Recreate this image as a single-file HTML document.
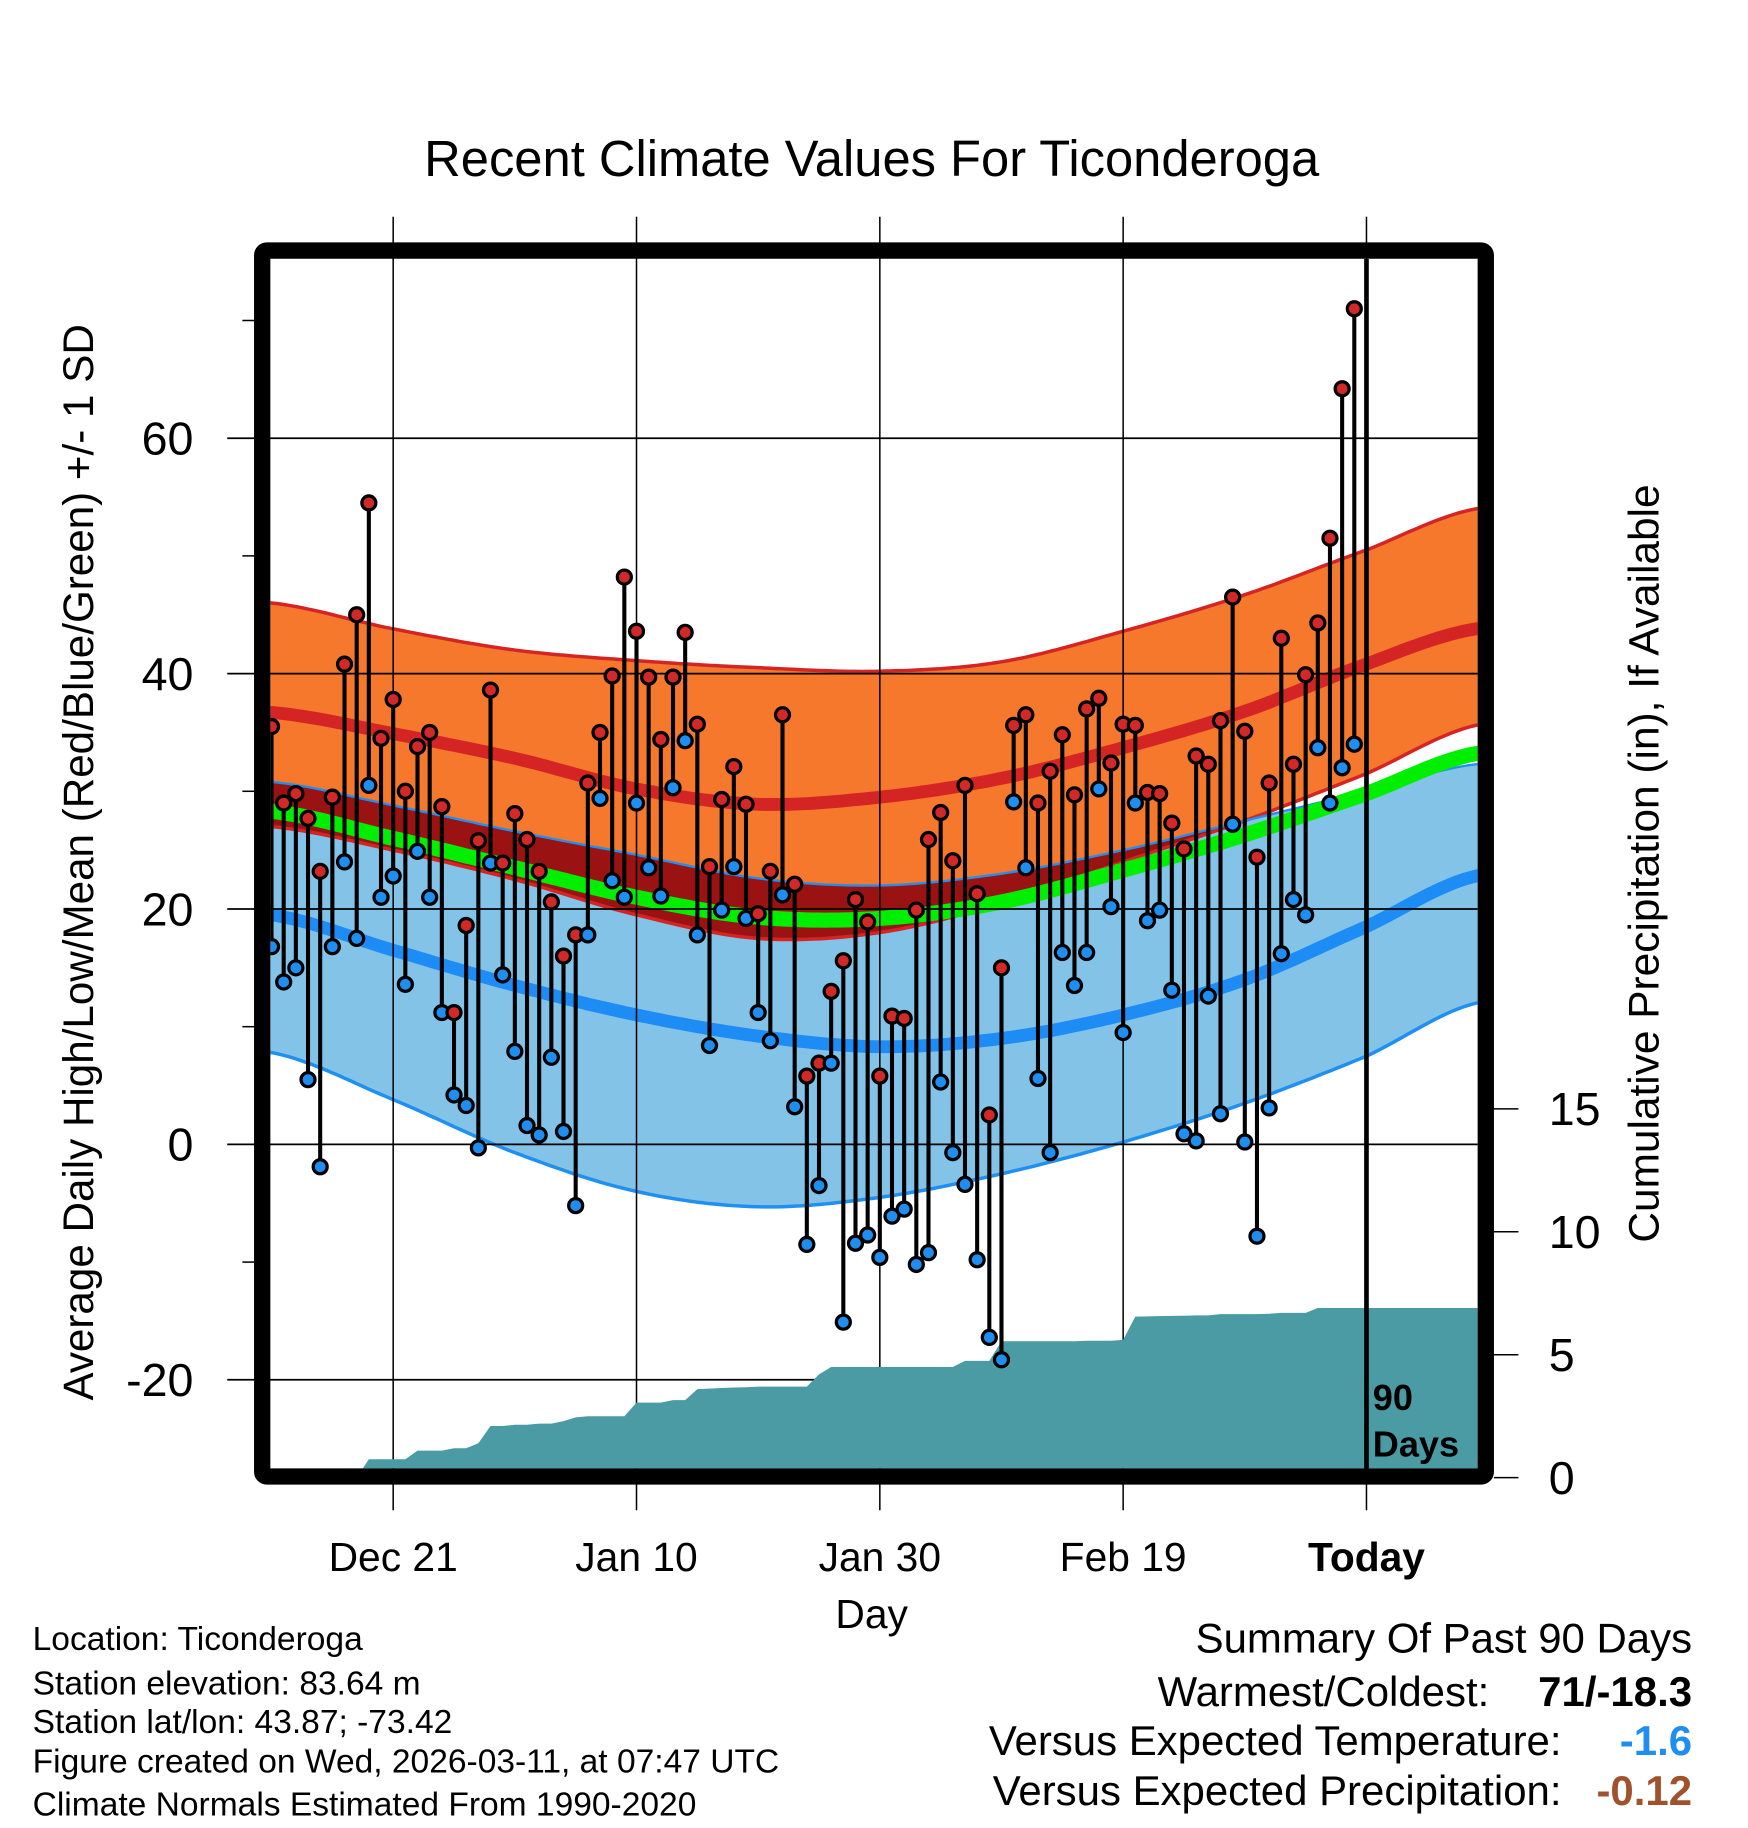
<!DOCTYPE html>
<html><head><meta charset="utf-8"><style>html,body{margin:0;padding:0;background:#fff}svg{display:block}text{font-family:"Liberation Sans",Arial,sans-serif}</style></head>
<body>
<svg id="chart" width="1748" height="1828" viewBox="0 0 1500 1568.6" xmlns="http://www.w3.org/2000/svg">
<defs><clipPath id="plotclip"><rect x="232" y="222" width="1036" height="1038"/></clipPath></defs>
<text x="748" y="151" font-size="43.5" text-anchor="middle">Recent Climate Values For Ticonderoga</text>
<g id="bands" clip-path="url(#plotclip)"></g>
<g id="grid"></g>
<g id="precip" clip-path="url(#plotclip)"></g>
<g id="pins" clip-path="url(#plotclip)"></g>
<g id="frame"></g>
<g id="axes"></g>
<text transform="translate(80,740) rotate(-90)" font-size="36.2" text-anchor="middle">Average Daily High/Low/Mean (Red/Blue/Green) +/- 1 SD</text>
<text transform="translate(1423,741) rotate(-90)" font-size="36.4" text-anchor="middle">Cumulative Precipitation (in), If Available</text>
<text x="748" y="1397" font-size="35" text-anchor="middle">Day</text>
<text x="1178" y="1210" font-size="31" font-weight="bold">90</text>
<text x="1178" y="1250" font-size="31" font-weight="bold">Days</text>
<g font-size="28.8">
<text x="28" y="1416">Location: Ticonderoga</text>
<text x="28" y="1454">Station elevation: 83.64 m</text>
<text x="28" y="1487">Station lat/lon: 43.87; -73.42</text>
<text x="28" y="1521">Figure created on Wed, 2026-03-11, at 07:47 UTC</text>
<text x="28" y="1558">Climate Normals Estimated From 1990-2020</text>
</g>
<g font-size="36" text-anchor="end">
<text x="1452" y="1418">Summary Of Past 90 Days</text>
<text x="1278" y="1464">Warmest/Coldest:</text>
<text x="1452" y="1464" font-weight="bold">71/-18.3</text>
<text x="1340" y="1506">Versus Expected Temperature:</text>
<text x="1452" y="1506" font-weight="bold" fill="#1e8ff0">-1.6</text>
<text x="1340" y="1549">Versus Expected Precipitation:</text>
<text x="1452" y="1549" font-weight="bold" fill="#a0522d">-0.12</text>
</g>
</svg>
<script>
const normDays=[0,10,20,30,40,50,60,70,80,90,99];
const highHi=[46,43.8,42,41.1,40.5,40.2,41,43.6,46.7,50.5,54];
const highMean=[36.7,34.9,32.8,30.2,28.9,29.5,31.1,33.7,36.8,40.8,43.8];
const highLo=[27,25,22.5,19.5,17.5,18,20.5,24,27.5,31.5,35.6];
const lowHi=[30.8,28.8,26.6,24.6,22.6,22,23,25,27.5,30,32.3];
const meanT=[28.3,26,23.5,21,19.3,19.2,20.6,23.3,26.3,29.8,33.2];
const lowMean=[19.5,16.5,13.5,11,9.2,8.3,9,11,14,18.5,22.8];
const lowLo=[7.8,3.8,-0.7,-4,-5.3,-4.5,-2.5,0.2,3.5,7.5,12];
const highs=[35.5,29,29.8,27.7,23.2,29.5,40.8,45,54.5,34.5,37.8,30,33.8,35,28.7,11.2,18.6,25.8,38.6,23.9,28.1,25.9,23.2,20.6,16,17.8,30.7,35,39.8,48.2,43.6,39.7,34.4,39.7,43.5,35.7,23.6,29.3,32.1,28.9,19.6,23.2,36.5,22.1,5.8,6.9,13,15.6,20.8,18.9,5.8,10.9,10.7,19.9,25.9,28.2,24.1,30.5,21.3,2.5,15,35.6,36.5,29,31.7,34.8,29.7,37,37.9,32.4,35.7,35.6,29.9,29.8,27.3,25.1,33,32.3,36,46.5,35.1,24.4,30.7,43,32.3,39.9,44.3,51.5,64.2,71];
const lows=[16.8,13.8,15,5.5,-1.9,16.8,24,17.5,30.5,21,22.8,13.6,24.9,21,11.2,4.2,3.3,-0.3,23.9,14.4,7.9,1.6,0.8,7.4,1.1,-5.2,17.8,29.4,22.4,21,29,23.5,21.1,30.3,34.3,17.8,8.4,19.9,23.6,19.2,11.2,8.8,21.2,3.2,-8.5,-3.5,6.9,-15.1,-8.4,-7.7,-9.6,-6.1,-5.5,-10.2,-9.2,5.3,-0.7,-3.4,-9.8,-16.4,-18.3,29.1,23.5,5.6,-0.7,16.3,13.5,16.3,30.2,20.2,9.5,29,19,19.9,13.1,0.9,0.3,12.6,2.6,27.2,0.2,-7.8,3.1,16.2,20.8,19.5,33.7,29,32,34];
const precip=[0,0,0,0,0,0,0,0,0.75,0.75,0.75,0.75,1.1,1.1,1.1,1.2,1.2,1.4,2.1,2.1,2.15,2.15,2.2,2.2,2.3,2.45,2.5,2.5,2.5,2.5,3.05,3.05,3.05,3.15,3.15,3.6,3.62,3.65,3.67,3.68,3.7,3.7,3.7,3.7,3.7,4.2,4.5,4.5,4.5,4.5,4.5,4.5,4.5,4.5,4.5,4.5,4.5,4.75,4.75,4.75,5.55,5.55,5.55,5.55,5.55,5.55,5.55,5.57,5.57,5.57,5.6,6.55,6.56,6.57,6.58,6.59,6.6,6.6,6.65,6.65,6.65,6.65,6.67,6.7,6.7,6.7,6.9,6.9,6.9,6.9];
const tempTicks=[60,40,20,0,-20];
const minorTicks=[70,50,30,10,-10];
const precipTicks=[0,5,10,15];
const dateTicks=[10,30,50,70,90];
const dateLabels=["Dec 21","Jan 10","Jan 30","Feb 19","Today"];
const NS="http://www.w3.org/2000/svg";
const X=d=>233+10.44*d, Y=v=>982-10.1*v, YP=p=>1268-21.1*p;
function mk(tag,attrs,parent){const e=document.createElementNS(NS,tag);for(const k in attrs)e.setAttribute(k,attrs[k]);parent.appendChild(e);return e;}
function interp(arr,d){let i=0;while(i<normDays.length-2&&d>normDays[i+1])i++;
 const p0=arr[Math.max(i-1,0)],p1=arr[i],p2=arr[i+1],p3=arr[Math.min(i+2,arr.length-1)];
 const t=(d-normDays[i])/(normDays[i+1]-normDays[i]);
 return 0.5*((2*p1)+(-p0+p2)*t+(2*p0-5*p1+4*p2-p3)*t*t+(-p0+3*p1-3*p2+p3)*t*t*t);}
const samp=[];for(let d=-1;d<=100;d+=0.5)samp.push(d);
const curve=arr=>samp.map(d=>[X(d),Y(interp(arr,d))]);
const pts=a=>a.map(p=>p[0].toFixed(1)+","+p[1].toFixed(1)).join(" ");
const bands=document.getElementById('bands');
let e;
e=mk('polygon',{points:pts(curve(highHi).concat(curve(highLo).reverse())),fill:'#f5782c'},bands);

e=mk('polygon',{points:pts(curve(lowHi).concat(curve(lowLo).reverse())),fill:'#84c3e8'},bands);

const ov=samp.map(d=>{const a=interp(lowHi,d),b=interp(highLo,d);return [X(d),Y(a),Y(Math.min(a,b))];});
e=mk('polygon',{points:pts(ov.map(p=>[p[0],p[1]]).concat(ov.map(p=>[p[0],p[2]]).reverse())),fill:'#9a1212'},bands);

e=mk('polyline',{points:pts(curve(highHi)),fill:'none',stroke:'#d42424','stroke-width':3},bands);

e=mk('polyline',{points:pts(curve(highLo)),fill:'none',stroke:'#d42424','stroke-width':3},bands);

e=mk('polyline',{points:pts(curve(lowHi)),fill:'none',stroke:'#2090f0','stroke-width':2},bands);

e=mk('polyline',{points:pts(curve(lowLo)),fill:'none',stroke:'#2090f0','stroke-width':3},bands);

e=mk('polyline',{points:pts(curve(meanT)),fill:'none',stroke:'#00ee00','stroke-width':13},bands);

e=mk('polyline',{points:pts(curve(highMean)),fill:'none',stroke:'#d42424','stroke-width':11},bands);

e=mk('polyline',{points:pts(curve(lowMean)),fill:'none',stroke:'#1e8cf5','stroke-width':11},bands);

const grid=document.getElementById('grid');
tempTicks.forEach(v=>{e=mk('line',{x1:195,x2:1268,y1:Y(v),y2:Y(v),stroke:'#000','stroke-width':1.5},grid);
 });
dateTicks.forEach((d,i)=>{e=mk('line',{x1:X(d),x2:X(d),y1:186,y2:1296,stroke:'#000','stroke-width':1.3},grid);
 });
const pg=document.getElementById('precip');
const pp=precip.map((p,i)=>[X(i),YP(p)]);pp.push([1270,YP(precip[precip.length-1])]);
e=mk('polygon',{points:pts([[X(0),1270]].concat(pp).concat([[1270,1270]])),fill:'#4a9ba3'},pg);

const pins=document.getElementById('pins');
e=mk('line',{x1:X(90),x2:X(90),y1:222,y2:1262,stroke:'#000','stroke-width':4},pins);

highs.forEach((h,i)=>{const x=X(i);
 e=mk('line',{x1:x,x2:x,y1:Y(h),y2:Y(lows[i]),stroke:'#000','stroke-width':3.5},pins);
 
 e=mk('circle',{cx:x,cy:Y(h),r:6,fill:'#d22828',stroke:'#000','stroke-width':2.8},pins);
 
 e=mk('circle',{cx:x,cy:Y(lows[i]),r:6,fill:'#1e8ff0',stroke:'#000','stroke-width':2.8},pins);
 });
const fr=document.getElementById('frame');
e=mk('rect',{x:225,y:215,width:1050,height:1052,rx:4,fill:'none',stroke:'#000','stroke-width':14},fr);

const ax=document.getElementById('axes');
tempTicks.forEach(v=>{e=mk('text',{x:166,y:Y(v)+14,'font-size':40,'text-anchor':'end'},ax);e.textContent=v;
 });
minorTicks.forEach(v=>{e=mk('line',{x1:208,x2:218,y1:Y(v),y2:Y(v),stroke:'#000','stroke-width':1.3},ax);
 });
precipTicks.forEach(p=>{e=mk('line',{x1:1282,x2:1303,y1:YP(p),y2:YP(p),stroke:'#000','stroke-width':1.3},ax);
 
 e=mk('text',{x:1329,y:YP(p)+14,'font-size':40},ax);e.textContent=p;
 });
dateTicks.forEach((d,i)=>{e=mk('text',{x:X(d),y:1348,'font-size':35,'text-anchor':'middle','font-weight':i==4?'bold':'normal'},ax);e.textContent=dateLabels[i];
 });
</script>
</body></html>
